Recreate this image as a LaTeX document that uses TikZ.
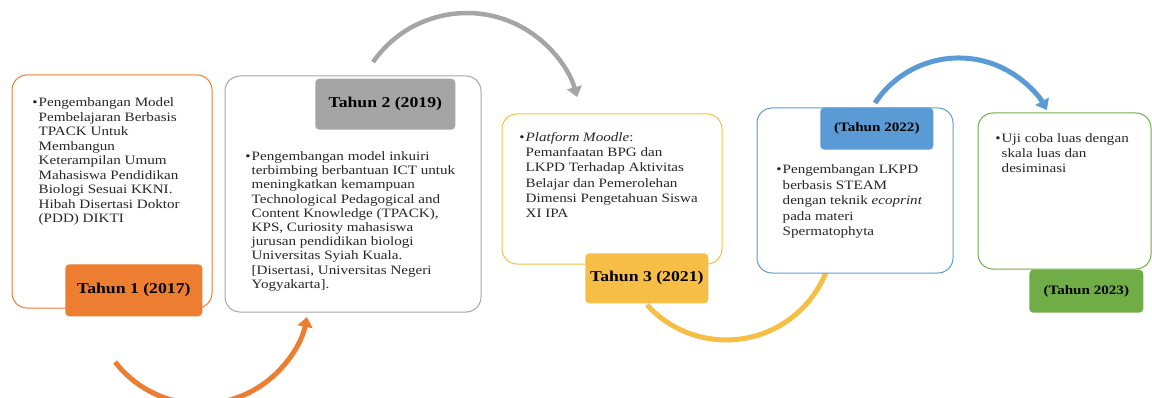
\documentclass[tikz,border=0pt]{standalone}
\usepackage{fontspec}
\setmainfont{Liberation Serif}[FakeStretch=1.18]
\usepackage{xcolor}
\usetikzlibrary{positioning,arrows.meta}

\definecolor{c-org}{HTML}{ED7D31}
\definecolor{c-gry}{HTML}{A5A5A5}
\definecolor{c-ylw}{HTML}{F7BE45}
\definecolor{c-blu}{HTML}{5B9BD5}
\definecolor{c-grn}{HTML}{70AD47}

\begin{document}
\begin{tikzpicture}
[
x=1pt, y=1pt,
box-a/.style={rectangle, draw, rounded corners=15pt, line width=1pt, fill=white},
tag-a/.style={rectangle, rounded corners=4pt, text=black, font=\fontsize{15}{18}\selectfont\bfseries},
tag-b/.style={rectangle, rounded corners=4pt, text=black, font=\fontsize{12.8}{15}\selectfont\bfseries},
text-a/.style={align=left, inner sep=0pt, text=black!85, font=\fontsize{12.8}{#1}\selectfont},
text-a/.default=14.4,
arc-a/.style={line width=5pt, -{Triangle[length=10pt, width=15pt]}},
arc-b/.style={line width=5pt}
]
\useasboundingbox (0,0) rectangle (1152,397);

% arcs between the years
\coordinate (arc-1) at (115.1,35.0);
\coordinate (arc-2) at (373.0,334.9);
\coordinate (arc-3) at (647.0,92.1);
\coordinate (arc-4) at (875.0,294.0);
\draw[arc-a, c-org] (arc-1) arc[start angle=217.8, end angle=348.6, radius=108.4];
\draw[arc-a, c-gry, line width=4.5pt] (arc-2) arc[start angle=145.2, end angle=15.4, radius=114.3];
\draw[arc-b, c-ylw] (arc-3) arc[start angle=222.3, end angle=338.0, radius=107.2];
\draw[arc-a, c-blu] (arc-4) arc[start angle=146.5, end angle=28.8, radius=100.5];

% boxes
\node (box-1) [box-a, draw=c-org, minimum width=200pt, minimum height=233pt] at (112,205.5) {};
\node (box-2) [box-a, draw=c-gry, minimum width=256pt, minimum height=236pt] at (353,203) {};
\node (box-3) [box-a, draw=c-ylw, minimum width=220pt, minimum height=150pt] at (612,208) {};
\node (box-4) [box-a, draw=c-blu, minimum width=196pt, minimum height=165pt] at (855,206.5) {};
\node (box-5) [box-a, draw=c-grn, minimum width=173pt, minimum height=156pt] at (1064.5,206) {};

% year tags
\node (tag-1) [tag-a, fill=c-org, minimum width=137pt, minimum height=52pt, above left = -8pt and 10pt of box-1.south east] {Tahun 1 (2017)};
\node (tag-2) [tag-a, fill=c-gry, minimum width=140pt, minimum height=51pt, below left = 3pt and 26pt of box-2.north east] {Tahun 2 (2019)};
\node (tag-3) [tag-a, fill=c-ylw, minimum width=123pt, minimum height=50pt, above left = -39pt and 14pt of box-3.south east] {Tahun 3 (2021)};
\node (tag-4) [tag-b, fill=c-blu, minimum width=113pt, minimum height=42pt, below left = 0pt and 20pt of box-4.north east] {(Tahun 2022)};
\node (tag-5) [tag-b, fill=c-grn, minimum width=114pt, minimum height=43pt, below left = 0pt and 8pt of box-5.south east] {(Tahun 2023)};

% texts
\node (txt-1) [text-a=14.5, anchor=north west] at ([xshift=27pt, yshift=-23pt]box-1.north west)
  {\llap{\textbullet\hspace{1pt}}Pengembangan Model\\ Pembelajaran Berbasis\\ TPACK Untuk\\ Membangun\\ Keterampilan Umum\\ Mahasiswa Pendidikan\\ Biologi Sesuai KKNI.\\ Hibah Disertasi Doktor\\ (PDD) DIKTI};
\node (txt-2) [text-a=14.2, anchor=north west] at ([xshift=27pt, yshift=-76pt]box-2.north west)
  {\llap{\textbullet\hspace{1pt}}Pengembangan model inkuiri\\ terbimbing berbantuan ICT untuk\\ meningkatkan kemampuan\\ Technological Pedagogical and\\ Content Knowledge (TPACK),\\ KPS, Curiosity mahasiswa\\ jurusan pendidikan biologi\\ Universitas Syiah Kuala.\\ {[}Disertasi, Universitas Negeri\\ Yogyakarta].};
\node (txt-3) [text-a=15.1, anchor=north west] at ([xshift=24pt, yshift=-19pt]box-3.north west)
  {\llap{\textbullet\hspace{1pt}}\textit{Platform Moodle}:\\ Pemanfaatan BPG dan\\ LKPD Terhadap Aktivitas\\ Belajar dan Pemerolehan\\ Dimensi Pengetahuan Siswa\\ XI IPA};
\node (txt-4) [text-a=15.6, anchor=north west] at ([xshift=26pt, yshift=-57pt]box-4.north west)
  {\llap{\textbullet\hspace{1pt}}Pengembangan LKPD\\ berbasis STEAM\\ dengan teknik \textit{ecoprint}\\ pada materi\\ Spermatophyta};
\node (txt-5) [text-a=15.2, anchor=north west] at ([xshift=24pt, yshift=-21pt]box-5.north west)
  {\llap{\textbullet\hspace{1pt}}Uji coba luas dengan\\ skala luas dan\\ desiminasi};
\end{tikzpicture}
\end{document}
